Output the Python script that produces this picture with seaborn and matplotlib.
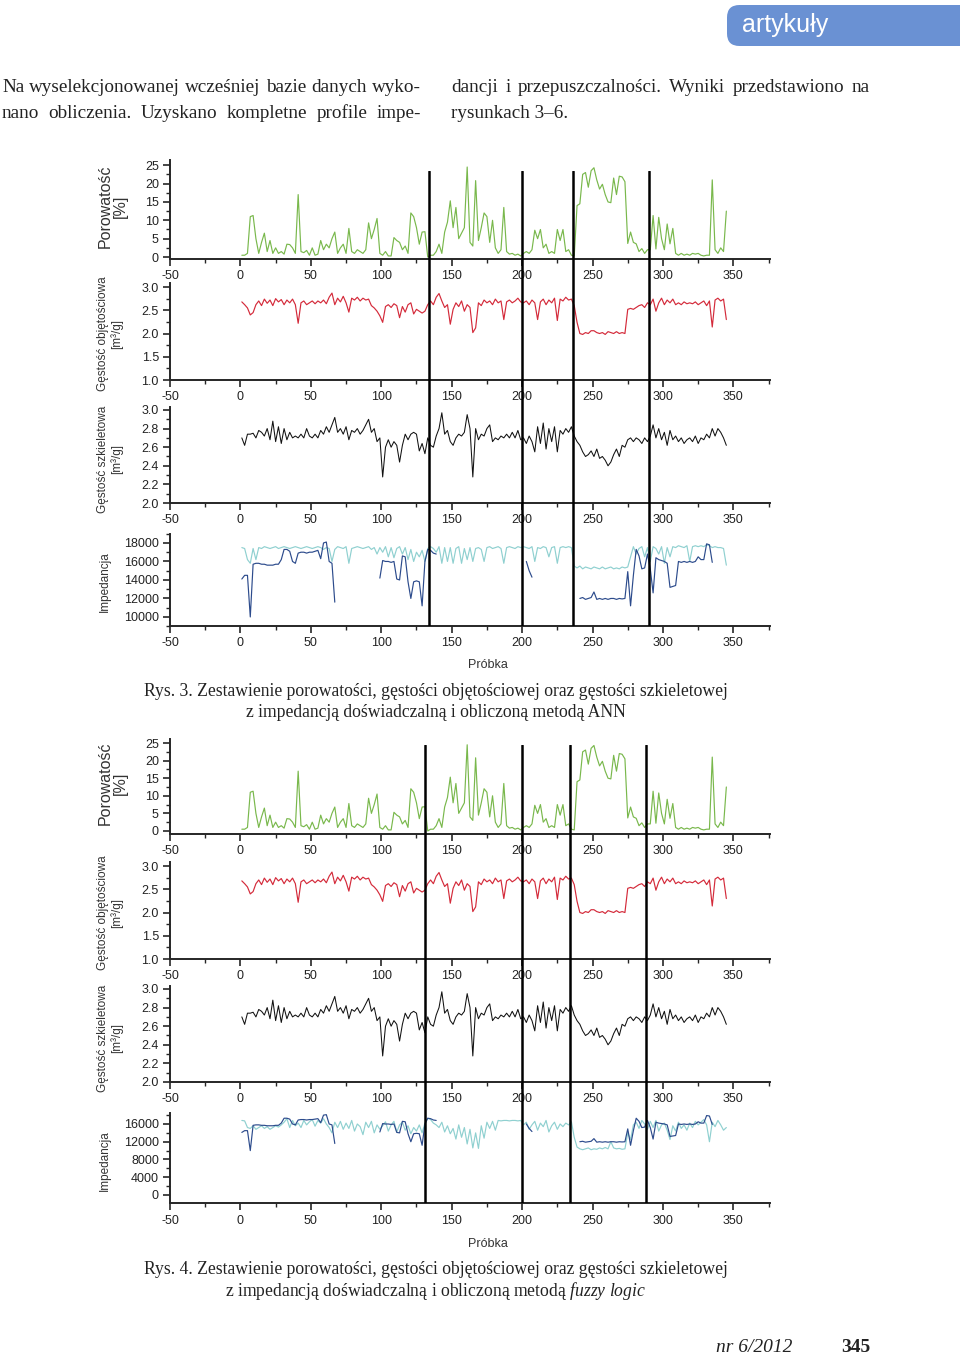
import numpy as np
import pandas as pd
import matplotlib.pyplot as plt
import matplotlib.patches as mpatches
from matplotlib.ticker import MultipleLocator, FormatStrFormatter
import seaborn as sns

W, H = 960, 1356

# numer próbki (co druga próbka)
probka = np.arange(1, 347, 2)

porowatosc = [
    0.5, 0.5, 1.0, 11.0, 11.3, 5.0, 1.0, 4.0, 6.5, 1.5,
    4.5, 1.0, 2.5, 1.0, 1.5, 0.8, 3.5, 3.4, 2.5, 1.0,
    17.0, 1.5, 1.2, 1.8, 0.5, 2.5, 0.5, 0.8, 4.5, 2.0,
    3.5, 2.5, 5.0, 6.8, 1.0, 2.5, 3.5, 1.0, 7.8, 1.5,
    1.0, 2.0, 1.5, 1.0, 2.0, 9.3, 5.0, 7.5, 10.5, 1.0,
    0.5, 1.5, 0.3, 0.3, 5.3, 4.5, 4.0, 2.0, 3.0, 1.0,
    12.0, 11.0, 8.0, 3.5, 6.8, 6.9, 0.0, 0.5, 0.5, 1.5,
    3.5, 1.0, 6.8, 9.5, 15.3, 8.0, 13.5, 5.0, 6.5, 8.0,
    24.5, 4.0, 3.0, 20.8, 4.5, 8.0, 12.0, 11.0, 4.0, 10.0,
    2.5, 1.0, 2.0, 13.5, 1.5, 0.8, 1.0, 0.5, 0.8, 0.3,
    1.0, 1.5, 1.0, 2.0, 7.3, 5.0, 7.5, 2.5, 3.5, 1.0,
    1.5, 1.0, 7.5, 4.5, 7.5, 1.5, 2.0, 0.5, 0.3, 14.0,
    14.5, 22.5, 23.0, 19.0, 23.5, 24.3, 21.0, 18.5, 19.8, 17.0,
    15.0, 14.8, 21.5, 17.0, 22.0, 21.8, 20.5, 3.7, 6.8, 4.0,
    3.6, 1.5, 2.3, 1.0, 2.0, 2.0, 11.3, 2.2, 10.8, 5.0,
    2.0, 9.0, 3.6, 7.8, 1.0, 0.5, 1.0, 0.5, 0.8, 0.5,
    1.0, 0.8, 1.0, 0.5, 0.3, 0.5, 0.5, 21.0, 2.0, 1.0,
    2.5, 1.5, 12.5,
]

gestosc_obj = [
    2.68, 2.62, 2.55, 2.40, 2.45, 2.62, 2.70, 2.60, 2.74, 2.65,
    2.72, 2.60, 2.75, 2.68, 2.73, 2.62, 2.72, 2.66, 2.74, 2.62,
    2.22, 2.66, 2.70, 2.62, 2.66, 2.70, 2.64, 2.70, 2.66, 2.72,
    2.64, 2.78, 2.87, 2.62, 2.76, 2.68, 2.80, 2.66, 2.46, 2.76,
    2.72, 2.78, 2.70, 2.76, 2.72, 2.74, 2.60, 2.55, 2.48, 2.38,
    2.24, 2.58, 2.62, 2.56, 2.64, 2.60, 2.34, 2.58, 2.46, 2.62,
    2.66, 2.42, 2.52, 2.48, 2.44, 2.48, 2.62, 2.70, 2.62, 2.78,
    2.86, 2.70, 2.56, 2.62, 2.20, 2.52, 2.66, 2.58, 2.70, 2.48,
    2.62, 2.56, 2.02, 2.12, 2.66, 2.60, 2.72, 2.66, 2.70, 2.62,
    2.74, 2.66, 2.70, 2.30, 2.68, 2.72, 2.66, 2.70, 2.76, 2.68,
    2.66, 2.70, 2.62, 2.72, 2.66, 2.30, 2.68, 2.74, 2.62, 2.72,
    2.66, 2.76, 2.28, 2.74, 2.70, 2.78, 2.72, 2.74, 2.60, 2.24,
    2.00, 1.98, 2.02, 2.00, 2.06, 2.06, 2.02, 2.00, 2.02, 1.98,
    2.04, 2.02, 2.00, 2.04, 2.00, 2.02, 2.00, 2.52, 2.54, 2.52,
    2.56, 2.60, 2.62, 2.56, 2.66, 2.62, 2.74, 2.48, 2.66, 2.76,
    2.62, 2.72, 2.66, 2.74, 2.62, 2.66, 2.62, 2.68, 2.64, 2.66,
    2.64, 2.68, 2.62, 2.66, 2.70, 2.60, 2.70, 2.14, 2.72, 2.76,
    2.70, 2.74, 2.30,
]

gestosc_szk = [
    2.70, 2.62, 2.74, 2.74, 2.75, 2.70, 2.78, 2.76, 2.72, 2.80,
    2.68, 2.88, 2.66, 2.82, 2.64, 2.80, 2.68, 2.76, 2.70, 2.72,
    2.70, 2.74, 2.70, 2.80, 2.72, 2.70, 2.74, 2.70, 2.78, 2.74,
    2.82, 2.76, 2.84, 2.92, 2.76, 2.80, 2.74, 2.82, 2.68, 2.78,
    2.76, 2.80, 2.74, 2.78, 2.84, 2.90, 2.76, 2.80, 2.66, 2.70,
    2.28, 2.60, 2.68, 2.60, 2.66, 2.62, 2.44, 2.62, 2.74, 2.68,
    2.74, 2.76, 2.74, 2.56, 2.64, 2.53, 2.70, 2.62, 2.60, 2.72,
    2.80, 2.97, 2.74, 2.78, 2.66, 2.62, 2.70, 2.74, 2.72, 2.76,
    2.95, 2.80, 2.28, 2.80, 2.68, 2.74, 2.72, 2.80, 2.84, 2.66,
    2.70, 2.68, 2.72, 2.70, 2.74, 2.70, 2.76, 2.70, 2.78, 2.68,
    2.70, 2.64, 2.72, 2.66, 2.55, 2.82, 2.64, 2.86, 2.58, 2.80,
    2.66, 2.82, 2.55, 2.78, 2.74, 2.80, 2.76, 2.82, 2.72, 2.66,
    2.62, 2.55, 2.50, 2.52, 2.56, 2.50, 2.58, 2.48, 2.50, 2.46,
    2.40, 2.44, 2.52, 2.58, 2.50, 2.62, 2.60, 2.68, 2.70, 2.66,
    2.70, 2.68, 2.64, 2.70, 2.66, 2.72, 2.84, 2.70, 2.80, 2.68,
    2.76, 2.62, 2.78, 2.68, 2.72, 2.66, 2.70, 2.64, 2.68, 2.70,
    2.66, 2.72, 2.64, 2.70, 2.68, 2.74, 2.70, 2.80, 2.72, 2.80,
    2.76, 2.70, 2.62,
]

nan = np.nan

# impedancja doświadczalna (luki = brak pomiaru)
imp_dosw = (
    [14100, 14500, 14500, 10000, 15700, 15800, 15800, 15700, 15700, 15600,
     15600, 15600, 15700, 15700, 16200, 17300, 17300, 17100, 16000, 15800,
     16900, 17000, 17000, 16900, 17000, 17000, 17100, 17200, 16300, 18000,
     18100, 16000, 15800, 11600]
    + [nan] * 15
    + [14200,
       16100, 16000, 16000, 15900, 16000, 14100, 14000, 16600, 16500, 13800,
       12000, 13800, 13900, 13800, 11200, 16000, 17300, 17200, 16900, 16800]
    + [nan] * 31
    + [16000, 15000, 14300]
    + [nan] * 16
    + [12000, 12100, 11900, 12000, 12100, 12700, 11900, 12000, 11900, 12000,
       11900, 12000, 12000, 11900, 12000, 11950, 12000, 14900, 11200, 14500,
       17300, 16600, 15200, 15300, 16800, 15200, 12600, 16400, 16200, 16100,
       16000, 15800, 13200, 13300, 13400, 16000, 15900, 16000, 15900, 16000,
       15900, 16000, 16500, 16200, 16200, 17900, 17800, 15900]
    + [nan] * 5
)

imp_ann = [
    17500, 17400, 16200, 15800, 17400, 16200, 17500, 17400, 17600, 17500,
    17400, 17500, 17600, 17400, 17500, 17600, 17500, 17400, 17500, 17600,
    17500, 17400, 17500, 17600, 17500, 17400, 17500, 17600, 17500, 17300,
    17500, 17400, 16000, 17300, 17600, 17500, 17400, 17600, 15800, 17400,
    17500, 17600, 17500, 17400, 17500, 17600, 17300, 17500, 16800, 17500,
    17000, 17600, 16500, 17500, 16400, 17400, 17600, 16800, 17500, 16200,
    17300, 16000, 17000, 16500, 17200, 16000, 17400, 17600, 17400, 17000,
    17600, 15800, 17500, 16000, 17500, 15800, 17400, 17600, 15800, 17400,
    16200, 17500, 16000, 17400, 17500, 17300, 16000, 17500, 17600, 17400,
    17500, 17600, 17400, 15800, 17500, 17600, 17500, 17400, 17600, 17500,
    17600, 17500, 17400, 17600, 16000, 17500, 17400, 17600, 17500, 16500,
    17500, 17600, 15800, 17500, 17600, 17500, 17600, 17500, 15500, 15300,
    15500, 15200, 15400, 15300, 15200, 15400, 15300, 15200, 15400, 15200,
    15300, 15400, 15200, 15300, 15200, 15400, 15300, 15400, 16500, 17600,
    16800, 17400, 17600, 16500, 17500, 16000, 17600, 17400, 16800, 17600,
    15800, 17500, 16500, 17600, 17500, 17700, 17600, 17500, 17700, 16000,
    17600, 17700, 17600, 17700, 17600, 17800, 17700, 17500, 17600, 17500,
    17500, 17400, 15600,
]

imp_fuzzy = [
    16800, 16700, 15200, 15000, 15600, 14800, 15200, 15600, 15000, 15400,
    14800, 15200, 15600, 15300, 15800, 16400, 17200, 15200, 16800, 15600,
    16200, 15200, 16800, 15800, 16500, 17000, 15500, 16800, 16200, 17200,
    16000, 15200, 14000, 16400, 15200, 16600, 14800, 16200, 15000, 16800,
    14400, 16000, 15400, 13600, 16400, 15200, 16600, 14000, 15800, 14800,
    15600, 16500, 14400, 15800, 16600, 14200, 15800, 16400, 14600, 15600,
    13800, 15200, 14400, 15800, 14000, 16200, 17300, 17000, 16200, 15800,
    15200, 16400, 14200, 15600, 13800, 15000, 12600, 15800, 13000, 15200,
    11500, 14800, 10600, 14000, 10500, 15600, 12800, 16400, 15000, 16600,
    14600, 16800, 16700, 16800, 16800, 16700, 16800, 16800, 16700, 16800,
    15800, 16400, 14800, 15800, 16600, 14600, 16200, 15400, 16800, 14200,
    15600, 16400, 14800, 16000, 15400, 16200, 15800, 16500, 13000, 10800,
    10400, 10200, 10400, 10600, 10200, 10400, 10300, 10600, 10400, 10700,
    10400, 12000, 10600, 10400, 10500, 10300, 10400, 14000, 12500, 15800,
    16400, 15000, 16800, 16000, 14800, 16600, 15200, 16800, 14400, 15800,
    16200, 14600, 12500, 15600, 14400, 16400, 15000, 15800, 14600, 16200,
    15200, 16600, 15800, 16400, 17000, 15800, 12000, 16400, 15400, 16800,
    15800, 14600, 15200,
]

granice_rys3 = [134, 200, 236, 290]
granice_rys4 = [131, 200, 234, 288]

ZIELONY = '#79b84c'
CZERWONY = '#d42a3a'
CZARNY = '#111111'
JASNY = '#8fd0d0'
CIEMNY = '#2c4b8c'

sns.set_style('ticks')
plt.rcParams['font.family'] = ['Liberation Sans', 'DejaVu Sans']
plt.rcParams['axes.unicode_minus'] = False
plt.rcParams['mathtext.fontset'] = 'custom'
plt.rcParams['mathtext.rm'] = 'Liberation Serif'
plt.rcParams['mathtext.it'] = 'Liberation Serif:italic'

fig = plt.figure(figsize=(W / 100, H / 100), dpi=100)

AX_LEFT, AX_RIGHT = 170, 770
XLIM = (-50, 376)


def px_axes(left, top, right, bottom):
    return fig.add_axes([left / W, 1 - bottom / H, (right - left) / W, (bottom - top) / H])


def seria(y):
    df = pd.DataFrame({'probka': probka, 'y': y})
    df['seg'] = df['y'].isna().cumsum()
    return df.dropna()


def rysuj(ax, y, color, lw=0.85):
    sns.lineplot(data=seria(y), x='probka', y='y', units='seg', estimator=None,
                 color=color, lw=lw, ax=ax, legend=False)


def styl(ax, ylim, major, minor, fmt):
    ax.set_xlim(*XLIM)
    ax.set_ylim(*ylim)
    ax.xaxis.set_major_locator(MultipleLocator(50))
    ax.xaxis.set_minor_locator(MultipleLocator(25))
    ax.yaxis.set_major_locator(MultipleLocator(major))
    ax.yaxis.set_minor_locator(MultipleLocator(minor))
    ax.yaxis.set_major_formatter(FormatStrFormatter(fmt))
    sns.despine(ax=ax)
    for s in ('left', 'bottom'):
        ax.spines[s].set_linewidth(1.4)
    ax.tick_params(which='major', direction='out', length=5, width=1.2,
                   labelsize=9, pad=3, labelcolor='#222222')
    ax.tick_params(which='minor', direction='out', length=3, width=1.0)
    ax.set_xlabel('')
    ax.set_ylabel('')
    ax.patch.set_alpha(0)


def etykieta(text, cx, cy, size):
    fig.text(cx / W, 1 - cy / H, text, rotation=90, ha='center', va='center',
             multialignment='center', fontsize=size, color='#333333', linespacing=1.05)


def rysunek(panele, imp_calc, imp_spec, granice, vtop, probka_y):
    (t1, b1, lim1), (t2, b2, lim2), (t3, b3, lim3), (t4, b4, lim4) = panele

    ax1 = px_axes(AX_LEFT, t1, AX_RIGHT, b1)
    rysuj(ax1, porowatosc, ZIELONY)
    styl(ax1, lim1, 5, 2.5, '%d')

    ax2 = px_axes(AX_LEFT, t2, AX_RIGHT, b2)
    rysuj(ax2, gestosc_obj, CZERWONY)
    styl(ax2, lim2, 0.5, 0.25, '%.1f')

    ax3 = px_axes(AX_LEFT, t3, AX_RIGHT, b3)
    rysuj(ax3, gestosc_szk, CZARNY, lw=0.75)
    styl(ax3, lim3, 0.2, 0.1, '%.1f')

    ax4 = px_axes(AX_LEFT, t4, AX_RIGHT, b4)
    rysuj(ax4, imp_calc, JASNY)
    rysuj(ax4, imp_dosw, CIEMNY)
    styl(ax4, lim4, imp_spec[0], imp_spec[1], '%d')

    etykieta('Porowatość\n[%]', 113, (t1 + b1) / 2 - 3, 11.5)
    etykieta('Gęstość objętościowa\n[m³/g]', 110, (t2 + b2) / 2 + 2, 8.5)
    etykieta('Gęstość szkieletowa\n[m³/g]', 110, (t3 + b3) / 2 + 4, 8.5)
    etykieta('Impedancja', 105, (t4 + b4) / 2 + 2, 8.5)
    fig.text(488 / W, 1 - probka_y / H, 'Próbka', ha='center', va='center',
             fontsize=9, color='#333333')

    ov = px_axes(AX_LEFT, vtop, AX_RIGHT, b4)
    ov.set_xlim(*XLIM)
    ov.set_ylim(0, 1)
    ov.set_axis_off()
    for g in granice:
        ov.axvline(g, color='black', lw=1.8)


rysunek([(160.4, 258.9, (-0.5, 26.3)),
         (283.3, 380.0, (1.0, 3.08)),
         (407.2, 503.0, (2.0, 3.03)),
         (533.7, 626.2, (9000, 19000))],
        imp_ann, (2000, 1000), granice_rys3, 171, 665)

rysunek([(738.8, 834.3, (-0.95, 26.2)),
         (862.3, 959.0, (1.0, 3.08)),
         (986.2, 1082.0, (2.0, 3.03)),
         (1112.9, 1203.4, (-1900, 18500))],
        imp_fuzzy, (4000, 2000), granice_rys4, 745, 1244)

# nagłówek
box = mpatches.FancyBboxPatch((727 / W, 1 - 46 / H), 260 / W, 41 / H,
                              boxstyle='round,pad=0,rounding_size=0.013',
                              mutation_aspect=W / H, transform=fig.transFigure,
                              facecolor='#6a91d3', edgecolor='none')
fig.add_artist(box)
fig.text(742 / W, 1 - 25 / H, 'artykuły', color='white', fontsize=18,
         ha='left', va='center')

serif = ['Liberation Serif', 'DejaVu Serif']
TXT = dict(family=serif, fontsize=13.8, va='center', color='#222222')


def wiersz_wyjustowany(text, x0, x1, y):
    # tekst wyrównany do obu marginesów, jak w łamaniu kolumny
    words = text.split(' ')
    arts = [fig.text(0, 1 - y / H, w, **TXT) for w in words]
    r = fig.canvas.get_renderer()
    widths = [a.get_window_extent(r).width for a in arts]
    gap = (x1 - x0 - sum(widths)) / (len(words) - 1)
    x = x0
    for a, w in zip(arts, widths):
        a.set_x(x / W)
        x += w + gap


wiersz_wyjustowany('Na wyselekcjonowanej wcześniej bazie danych wyko-', 2, 421, 88)
wiersz_wyjustowany('nano obliczenia. Uzyskano kompletne profile impe-', 2, 421, 113)
wiersz_wyjustowany('dancji i przepuszczalności. Wyniki przedstawiono na', 451, 870, 88)
fig.text(451 / W, 1 - 113 / H, 'rysunkach 3–6.', **TXT)

CAP = dict(family=serif, fontsize=12.7, ha='center', va='center', color='#222222')
fig.text(436 / W, 1 - 691 / H,
         'Rys. 3. Zestawienie porowatości, gęstości objętościowej oraz gęstości szkieletowej', **CAP)
fig.text(436 / W, 1 - 713 / H, 'z impedancją doświadczalną i obliczoną metodą ANN', **CAP)
fig.text(436 / W, 1 - 1270 / H,
         'Rys. 4. Zestawienie porowatości, gęstości objętościowej oraz gęstości szkieletowej', **CAP)
fig.text(436 / W, 1 - 1291 / H,
         r'z impedancją doświadczalną i obliczoną metodą $\mathit{fuzzy\ logic}$', **CAP)

fig.text(792 / W, 1 - 1347 / H, 'nr 6/2012', family=serif, style='italic',
         fontsize=14, ha='right', va='center', color='#222222')
fig.text(870 / W, 1 - 1347 / H, '345', family=serif, weight='bold',
         fontsize=14, ha='right', va='center', color='#222222')

fig.savefig('out.png', dpi=100)
